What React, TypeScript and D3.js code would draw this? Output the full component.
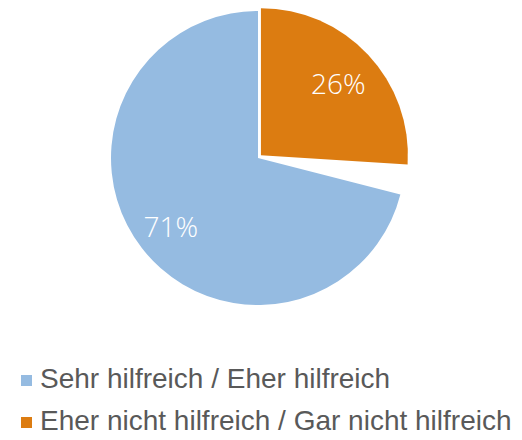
import React, { useRef, useEffect } from 'react'
import * as d3 from 'd3'

// slices clockwise from 12 o'clock; the 3% rest is not drawn
const categories = ['Eher nicht hilfreich / Gar nicht hilfreich', 'Keine Angabe', 'Sehr hilfreich / Eher hilfreich']
const values = [26, 3, 71]
const colors = ['#DC7C11', 'none', '#95BBE1']
const legendOrder = [2, 0]

const App = () => {
  const svgRef = useRef<SVGSVGElement>(null)

  useEffect(() => {
    const svg = d3.select(svgRef.current)
    svg.selectAll('*').remove()

    const cx = 258
    const cy = 158
    const r = 147

    const pie = d3.pie<number>().sort(null).value(d => d)
    const arcs = pie(values)
    const arc = d3.arc<d3.PieArcDatum<number>>().innerRadius(0).outerRadius(r)

    const g = svg.append('g').attr('transform', `translate(${cx},${cy})`)

    // orange slice is pulled out a bit
    const explode = (i: number) => (i === 0 ? 4 : 0)

    g.selectAll('path')
      .data(arcs)
      .join('path')
      .attr('d', d => arc(d))
      .attr('fill', (d, i) => colors[i])
      .attr('transform', (d, i) => {
        const a = (d.startAngle + d.endAngle) / 2
        return `translate(${Math.sin(a) * explode(i)},${-Math.cos(a) * explode(i)})`
      })

    const labelArc = d3.arc<d3.PieArcDatum<number>>().innerRadius(r * 0.75).outerRadius(r * 0.75)
    g.selectAll('text.lbl')
      .data(arcs.filter((d, i) => colors[i] !== 'none'))
      .join('text')
      .attr('class', 'lbl')
      .attr('transform', d => {
        const [x, y] = labelArc.centroid(d)
        return `translate(${x},${y})`
      })
      .attr('text-anchor', 'middle')
      .attr('dy', '0.42em')
      .attr('fill', '#ffffff')
      .attr('font-family', 'Open Sans, sans-serif')
      .attr('font-weight', 300)
      .attr('font-size', 28)
      .text(d => `${d.data}%`)

    const legend = svg.append('g')
    legendOrder.forEach((idx, row) => {
      const y = 388 + row * 42
      legend.append('rect')
        .attr('x', 21).attr('y', y - 13)
        .attr('width', 11).attr('height', 11)
        .attr('fill', colors[idx])
      legend.append('text')
        .attr('x', 40).attr('y', y)
        .attr('fill', '#595959')
        .attr('font-family', 'Liberation Sans, Arial, sans-serif')
        .attr('font-size', 28)
        .text(categories[idx])
    })
  }, [])

  return (
    <svg ref={svgRef} width={522} height={440}
      style={{ position: 'absolute', left: 0, top: 0, background: '#ffffff' }} />
  )
}

export default App
